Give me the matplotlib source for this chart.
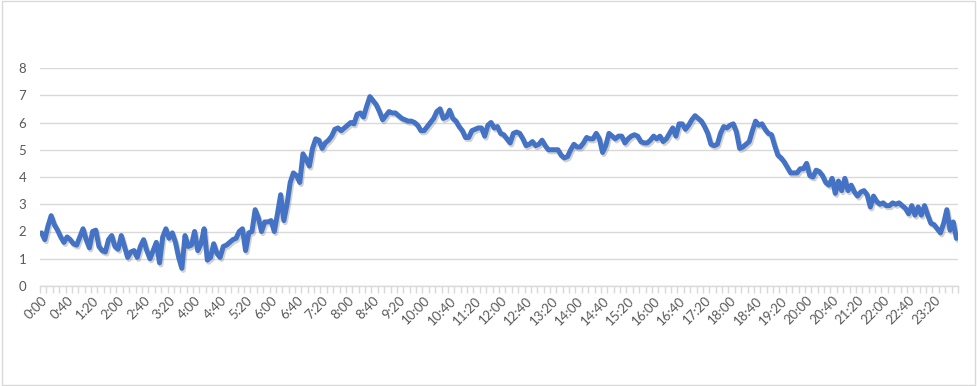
import matplotlib
matplotlib.use("Agg")
import matplotlib.pyplot as plt
from matplotlib.patches import Rectangle
import matplotlib.patheffects as pe

# 5-minute samples over one day
times = [f"{h}:{m:02d}" for h in range(24) for m in range(0, 60, 5)]
values = [
    1.95, 1.7, 2.2, 2.58, 2.25, 2.05, 1.8, 1.6, 1.8, 1.7, 1.55, 1.5, 1.8, 2.1, 1.7, 1.4,
    2.0, 2.05, 1.45, 1.3, 1.25, 1.7, 1.85, 1.45, 1.35, 1.85, 1.45, 1.05, 1.25, 1.3, 1.05, 1.45,
    1.7, 1.3, 1.0, 1.3, 1.6, 0.85, 1.8, 2.1, 1.75, 1.95, 1.6, 1.05, 0.65, 1.85, 1.45, 1.5,
    2.0, 1.3, 1.55, 2.1, 0.95, 1.05, 1.55, 1.2, 1.05, 1.45, 1.5, 1.6, 1.7, 1.75, 2.0, 2.1,
    1.3, 1.95, 2.0, 2.8, 2.5, 2.0, 2.35, 2.35, 2.4, 2.0, 2.65, 3.35, 2.4, 3.0, 3.8, 4.15,
    4.05, 3.8, 4.85, 4.65, 4.4, 5.05, 5.4, 5.35, 5.05, 5.25, 5.35, 5.5, 5.75, 5.8, 5.7, 5.8,
    5.9, 6.0, 5.95, 6.3, 6.35, 6.2, 6.6, 6.95, 6.8, 6.65, 6.4, 6.1, 6.25, 6.4, 6.35, 6.35,
    6.25, 6.15, 6.1, 6.05, 6.05, 6.0, 5.9, 5.7, 5.7, 5.85, 6.0, 6.15, 6.4, 6.5, 6.15, 6.2,
    6.45, 6.15, 6.05, 5.85, 5.7, 5.45, 5.45, 5.7, 5.75, 5.8, 5.8, 5.5, 5.9, 6.0, 5.8, 5.85,
    5.6, 5.55, 5.4, 5.25, 5.6, 5.65, 5.6, 5.4, 5.15, 5.2, 5.3, 5.15, 5.2, 5.35, 5.15, 5.0,
    5.0, 5.0, 5.0, 4.8, 4.7, 4.75, 5.0, 5.2, 5.1, 5.1, 5.25, 5.45, 5.4, 5.4, 5.6, 5.4,
    4.9, 5.15, 5.6, 5.5, 5.4, 5.5, 5.5, 5.25, 5.4, 5.5, 5.55, 5.5, 5.3, 5.25, 5.25, 5.35,
    5.5, 5.4, 5.5, 5.3, 5.4, 5.6, 5.8, 5.5, 5.95, 5.95, 5.75, 5.9, 6.1, 6.25, 6.15, 6.05,
    5.85, 5.6, 5.2, 5.15, 5.2, 5.6, 5.85, 5.8, 5.9, 5.95, 5.65, 5.05, 5.1, 5.2, 5.3, 5.7,
    6.05, 5.9, 5.95, 5.75, 5.6, 5.55, 5.15, 4.8, 4.7, 4.55, 4.35, 4.15, 4.15, 4.15, 4.3, 4.3,
    4.5, 4.05, 4.0, 4.25, 4.2, 4.05, 3.8, 3.7, 3.95, 3.4, 3.85, 3.5, 3.95, 3.5, 3.7, 3.45,
    3.3, 3.45, 3.5, 3.35, 2.9, 3.3, 3.1, 3.0, 3.05, 2.95, 2.95, 3.05, 3.0, 3.05, 2.95, 2.85,
    2.65, 2.95, 2.6, 2.9, 2.6, 2.95, 2.6, 2.3, 2.25, 2.1, 1.95, 2.3, 2.8, 2.05, 2.35, 1.75,
]
yticks = list(range(0, 9))
label_step = 8   # one label every 40 minutes
tick_step = 2

plt.rcParams["font.family"] = ["Lato", "DejaVu Sans"]
txt = "#595959"
grid = "#D9D9D9"
blue = "#4472C4"

fig = plt.figure(figsize=(9.78, 3.86), dpi=100)
ax = fig.add_axes([40 / 978, 1 - 286 / 386, 918 / 978, 218 / 386])

x = list(range(len(values)))
ax.plot(x, values, color=blue, lw=3.6, solid_joinstyle="round", solid_capstyle="round",
        path_effects=[pe.SimpleLineShadow(offset=(1, -1.5), shadow_color="#7f7f7f", alpha=0.35),
                      pe.Normal()], zorder=3)

ax.set_xlim(-0.5, len(values) - 0.5)
ax.set_ylim(0, 8)
ax.set_yticks(yticks)
ax.set_yticklabels([str(v) for v in yticks])
ax.yaxis.grid(True, color=grid, lw=1)
ax.set_axisbelow(True)

ax.set_xticks(x[::label_step])
ax.set_xticklabels(times[::label_step], rotation=45, ha="right", rotation_mode="anchor")
ax.set_xticks([i - 0.5 for i in range(0, len(values) + 1, tick_step)], minor=True)
ax.tick_params(axis="x", which="major", length=0, pad=6, labelsize=9.5, labelcolor=txt)
ax.tick_params(axis="x", which="minor", length=5, width=1, color=grid)
ax.tick_params(axis="y", length=0, pad=10, labelsize=9.5, labelcolor=txt)

for s in ["top", "right", "left"]:
    ax.spines[s].set_visible(False)
ax.spines["bottom"].set_color(grid)
ax.spines["bottom"].set_linewidth(1)

fig.patches.append(Rectangle((0.002, 0.003), 0.995, 0.994, transform=fig.transFigure,
                             fill=False, edgecolor=grid, lw=1))

fig.savefig("out.png", dpi=100)
